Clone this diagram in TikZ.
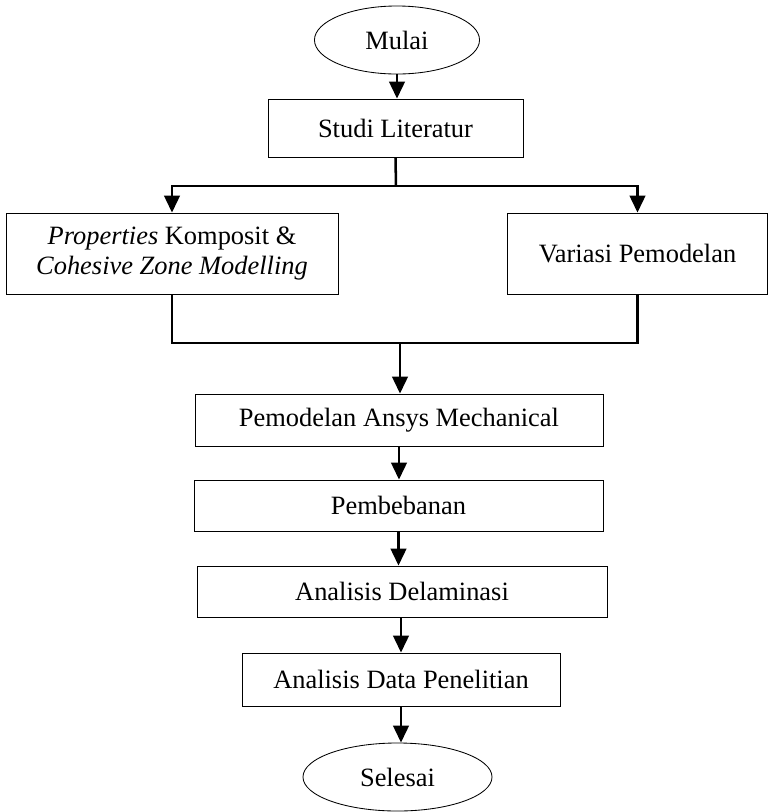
\documentclass[tikz,border=0pt]{standalone}
\usepackage{fontspec}
\setmainfont{Liberation Serif}
\usetikzlibrary{shapes, arrows.meta, positioning}
\tikzstyle{proses} = [draw, rectangle, line width=0.6pt, inner sep=2pt, align=center, font=\fontsize{18.8}{21.5}\selectfont]
\tikzstyle{terminal} = [draw, ellipse, line width=0.6pt, inner sep=0pt, font=\fontsize{18.8}{21.5}\selectfont]
\tikzstyle{panah} = [line width=1.8pt, -{Triangle[length=12pt, width=11pt]}]
\tikzstyle{garis} = [line width=1.8pt]

\begin{document}
\begin{tikzpicture}[x=0.025cm, y=-0.025cm]
	\useasboundingbox (0,0) rectangle (769,812);
	\node [terminal, minimum width=4.125cm, minimum height=1.7cm] (mulai) at (397,40) {Mulai};
	\node [proses, minimum width=6.375cm, minimum height=1.45cm] (studi) at (395.5,128) {Studi Literatur};
	\node [proses, minimum width=8.3cm, minimum height=2.025cm] (prop) at (172,253.5) {\textit{Properties} Komposit \&\\ \textit{Cohesive Zone Modelling}};
	\node [proses, minimum width=6.5cm, minimum height=2.025cm] (variasi) at (637.5,253.5) {Variasi Pemodelan};
	\node [proses, minimum width=10.2cm, minimum height=1.3cm] (ansys) at (399,420) {Pemodelan Ansys Mechanical};
	\node [proses, minimum width=10.225cm, minimum height=1.275cm] (beban) at (398.5,505.5) {Pembebanan};
	\node [proses, minimum width=10.25cm, minimum height=1.275cm] (delam) at (402,591.5) {Analisis Delaminasi};
	\node [proses, minimum width=7.95cm, minimum height=1.325cm] (data) at (401,679.5) {Analisis Data Penelitian};
	\node [terminal, minimum width=4.725cm, minimum height=1.7cm] (selesai) at (397.5,777) {Selesai};
	% cabang dan gabungan
	\coordinate (cabang) at (396,186);
	\coordinate (gabung) at (400,343);
	\draw [panah] (mulai.south) -- (mulai.south |- studi.north);
	\draw [garis] (studi.south) -- (cabang);
	\draw [panah] (cabang) -| (prop.north);
	\draw [panah] (cabang) -| (variasi.north);
	\draw [garis] (prop.south) |- (gabung) -| (variasi.south);
	\draw [panah] (gabung) -- (gabung |- ansys.north);
	\draw [panah] (ansys.south) -- (ansys.south |- beban.north);
	\draw [panah] (beban.south) -- (beban.south |- delam.north);
	\draw [panah] (data.north |- delam.south) -- (data.north);
	\draw [panah] (data.south) -- (data.south |- selesai.north);
\end{tikzpicture}
\end{document}
